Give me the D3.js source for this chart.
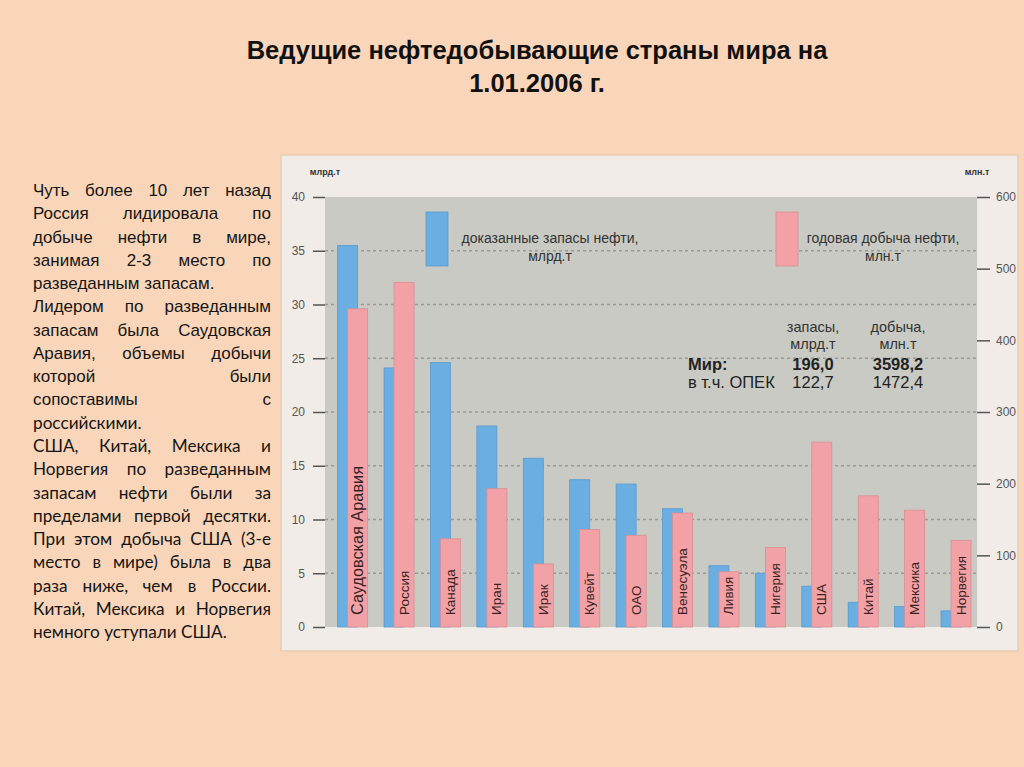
<!DOCTYPE html>
<html>
<head>
<meta charset="utf-8">
<script src="https://cdn.jsdelivr.net/npm/d3@7"></script>
<style>
  html, body { margin: 0; padding: 0; background: #f9d5b9; }
  svg { display: block; }
</style>
</head>
<body>
<svg id="chart" width="1024" height="767"></svg>
<script>
// ---------- DATA ----------
const categories = ["Саудовская Аравия", "Россия", "Канада", "Иран", "Ирак", "Кувейт", "ОАО",
                    "Венесуэла", "Ливия", "Нигерия", "США", "Китай", "Мексика", "Норвегия"];
// proved reserves, bn t (left axis)
const reserves   = [35.5, 24.1, 24.6, 18.7, 15.7, 13.7, 13.3, 11.0, 5.7, 5.0, 3.8, 2.3, 1.9, 1.5];
// annual production, mn t (right axis)
const production = [444, 481, 123, 193, 88, 136, 128, 159, 77, 111, 258, 183, 163, 121];
const leftTicks  = [0, 5, 10, 15, 20, 25, 30, 35, 40];
const rightTicks = [0, 100, 200, 300, 400, 500, 600];
const gridValues = [5, 10, 15, 20, 25, 30, 35];

const titleLines = ["Ведущие нефтедобывающие страны мира на", "1.01.2006 г."];
const legendReserves   = ["доказанные запасы нефти,", "млрд.т"];
const legendProduction = ["годовая добыча нефти,", "млн.т"];
const infoHeader = [["запасы,", "млрд.т"], ["добыча,", "млн.т"]];
const infoRows = [
  { label: "Мир:", reserves: "196,0", production: "3598,2", bold: true },
  { label: "в т.ч. ОПЕК", reserves: "122,7", production: "1472,4", bold: false }
];
const sideText = [
  { font: "'Liberation Sans', Arial, sans-serif", size: 17, lines: [
    ["Чуть более 10 лет назад", true],
    ["Россия лидировала по", true],
    ["добыче нефти в мире,", true],
    ["занимая 2-3 место по", true],
    ["разведанным запасам.", false],
    ["Лидером по разведанным", true],
    ["запасам была Саудовская", true],
    ["Аравия, объемы добычи", true],
    ["которой были", true],
    ["сопоставимы с", true]]},
  { font: "Lato, sans-serif", size: 17.2, lines: [
    ["российскими.", false],
    ["США, Китай, Мексика и", true],
    ["Норвегия по разведанным", true],
    ["запасам нефти были за", true],
    ["пределами первой десятки.", true],
    ["При этом добыча США (3-е", true],
    ["место в мире) была в два", true],
    ["раза ниже, чем в России.", true],
    ["Китай, Мексика и Норвегия", true],
    ["немного уступали США.", false]]}
];

// ---------- LAYOUT ----------
const svg = d3.select("#chart");
const W = 1024, H = 767;
const plot = { left: 325, right: 977, top: 197, bottom: 627 };
const narrow = "'Liberation Sans Narrow', 'Liberation Sans', Arial, sans-serif";
const sans = "'Liberation Sans', Arial, sans-serif";

svg.append("rect").attr("width", W).attr("height", H).attr("fill", "#f9d5b9");

// title
svg.append("g").selectAll("text").data(titleLines).join("text")
  .attr("x", 537).attr("y", (d, i) => 59 + i * 33)
  .attr("text-anchor", "middle")
  .attr("font-family", sans).attr("font-weight", "bold").attr("font-size", 25.5)
  .attr("fill", "#111").text(d => d);

// side text (justified)
const textLeft = 33, textWidth = 238, lineStart = 196, lineStep = 23.27;
const sideG = svg.append("g");
let lineIndex = 0;
sideText.forEach(block => {
  block.lines.forEach(([line, justify]) => {
    const y = lineStart + lineIndex * lineStep;
    lineIndex++;
    const words = line.split(" ");
    const t = sideG.append("text")
      .attr("font-family", block.font).attr("font-size", block.size)
      .attr("fill", "#151515").attr("y", y);
    if (!justify || words.length < 2) {
      t.attr("x", textLeft).text(line);
      return;
    }
    const spans = words.map(w => t.append("tspan").text(w));
    const widths = spans.map(s => s.node().getComputedTextLength());
    const total = d3.sum(widths);
    const gap = (textWidth - total) / (words.length - 1);
    let x = textLeft;
    spans.forEach((s, i) => { s.attr("x", x); x += widths[i] + gap; });
  });
});

// chart panel
svg.append("rect")
  .attr("x", 281).attr("y", 155).attr("width", 737).attr("height", 496)
  .attr("fill", "#f1ece7").attr("stroke", "#e9cdb4").attr("stroke-width", 1.5);

svg.append("rect")
  .attr("x", plot.left).attr("y", plot.top)
  .attr("width", plot.right - plot.left).attr("height", plot.bottom - plot.top)
  .attr("fill", "#c9cac4");

// scales
const x = d3.scaleBand().domain(categories).range([plot.left, plot.right])
  .paddingInner(0.353).paddingOuter(0.2).align(0.68);
const yL = d3.scaleLinear().domain([0, 40]).range([plot.bottom, plot.top]);
const yR = d3.scaleLinear().domain([0, 600]).range([plot.bottom, plot.top]);
const bw = x.bandwidth();
const barW = bw * 2 / 3;

// grid
svg.append("g").selectAll("line").data(gridValues).join("line")
  .attr("x1", plot.left).attr("x2", plot.right)
  .attr("y1", d => yL(d)).attr("y2", d => yL(d))
  .attr("stroke", "#999a95").attr("stroke-width", 1.3).attr("stroke-dasharray", "3,3");

// axes
const axL = svg.append("g").attr("transform", `translate(${plot.left},0)`)
  .call(d3.axisLeft(yL).tickValues(leftTicks).tickSize(12).tickPadding(8));
const axR = svg.append("g").attr("transform", `translate(${plot.right},0)`)
  .call(d3.axisRight(yR).tickValues(rightTicks).tickSize(13).tickPadding(6));
[axL, axR].forEach(a => {
  a.select(".domain").remove();
  a.selectAll(".tick line").attr("stroke", "#555").attr("stroke-width", 1.5);
  a.selectAll(".tick text").attr("font-family", narrow).attr("font-size", 12).attr("fill", "#555");
});

svg.append("text").attr("x", 325).attr("y", 175).attr("text-anchor", "middle")
  .attr("font-family", sans).attr("font-weight", "bold").attr("font-size", 9)
  .attr("fill", "#333").text("млрд.т");
svg.append("text").attr("x", 977).attr("y", 175).attr("text-anchor", "middle")
  .attr("font-family", sans).attr("font-weight", "bold").attr("font-size", 9)
  .attr("fill", "#333").text("млн.т");

// bars
const blue = "#6aaee2", blueStroke = "#5a9bcf";
const pink = "#f2a2a6", pinkStroke = "#d98e92";
const rows = categories.map((c, i) => ({ c, r: reserves[i], p: production[i], i }));

svg.append("g").selectAll("rect").data(rows).join("rect")
  .attr("x", d => x(d.c)).attr("width", barW)
  .attr("y", d => yL(d.r)).attr("height", d => yL(0) - yL(d.r))
  .attr("fill", blue).attr("stroke", blueStroke).attr("stroke-width", 0.8);

svg.append("g").selectAll("rect").data(rows).join("rect")
  .attr("x", d => x(d.c) + bw / 3).attr("width", barW)
  .attr("y", d => yR(d.p)).attr("height", d => yR(0) - yR(d.p))
  .attr("fill", pink).attr("stroke", pinkStroke).attr("stroke-width", 0.8);

// category labels inside pink bars
svg.append("g").selectAll("text").data(rows).join("text")
  .attr("transform", d => `translate(${x(d.c) + bw / 3 + barW / 2 + (d.i === 0 ? 5.5 : 4.5)},${plot.bottom - 12}) rotate(-90)`)
  .attr("font-family", sans).attr("font-size", d => d.i === 0 ? 16.3 : 13.5)
  .attr("fill", "#3a1f22").text(d => d.c);

// legend
function legend(x0, color, stroke, lines, cx) {
  svg.append("rect").attr("x", x0).attr("y", 212).attr("width", 22).attr("height", 54)
    .attr("fill", color).attr("stroke", stroke).attr("stroke-width", 0.8);
  svg.append("g").selectAll("text").data(lines).join("text")
    .attr("x", cx).attr("y", (d, i) => 243 + i * 18).attr("text-anchor", "middle")
    .attr("font-family", narrow).attr("font-size", 14).attr("fill", "#333").text(d => d);
}
legend(426, blue, blueStroke, legendReserves, 550);
legend(776, pink, pinkStroke, legendProduction, 883);

// info block
const infoCols = [813, 898];
infoHeader.forEach((lines, j) => {
  svg.append("g").selectAll("text").data(lines).join("text")
    .attr("x", infoCols[j]).attr("y", (d, i) => 332 + i * 17).attr("text-anchor", "middle")
    .attr("font-family", narrow).attr("font-size", 14.5).attr("fill", "#333").text(d => d);
});
infoRows.forEach((row, i) => {
  const y = 370 + i * 18;
  const g = svg.append("g").attr("font-family", narrow).attr("font-size", 16.5)
    .attr("font-weight", row.bold ? "bold" : "normal").attr("fill", "#222");
  g.append("text").attr("x", 688).attr("y", y).text(row.label);
  g.append("text").attr("x", infoCols[0]).attr("y", y).attr("text-anchor", "middle").text(row.reserves);
  g.append("text").attr("x", infoCols[1]).attr("y", y).attr("text-anchor", "middle").text(row.production);
});
</script>
</body>
</html>
